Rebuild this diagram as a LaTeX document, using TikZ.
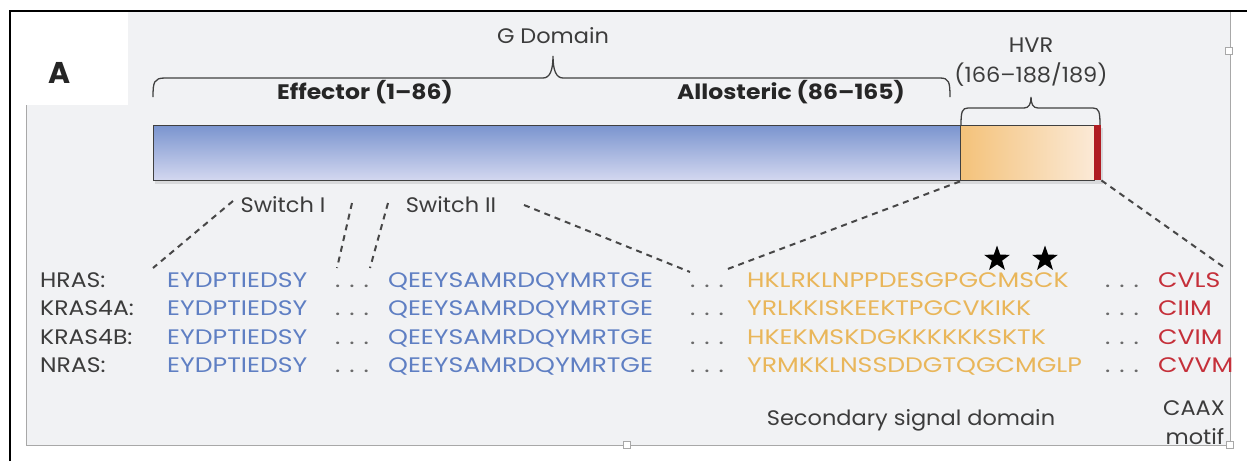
\documentclass[tikz,border=0pt]{standalone}
\usepackage{fontspec}
\setmainfont{Poppins}
\newfontfamily\upfont[FakeStretch=1.2]{Poppins}
\newfontfamily\midfont[FakeStretch=1.12]{Poppins}
\newfontfamily\lofont[FakeStretch=1.07]{Poppins}
\usetikzlibrary{shapes.geometric}
\definecolor{panel}{HTML}{F1F2F4}
\definecolor{pborder}{HTML}{A8A8A8}
\definecolor{txt}{HTML}{3C3C3C}
\definecolor{seqblue}{HTML}{5F7FC3}
\definecolor{seqorange}{HTML}{E9B65A}
\definecolor{seqred}{HTML}{C5303A}
\definecolor{dotc}{HTML}{6A6A6A}
\definecolor{barblueT}{HTML}{7B95CF}
\definecolor{barblueB}{HTML}{D4D8F0}
\definecolor{orangeL}{HTML}{F4C27A}
\definecolor{orangeR}{HTML}{FBEAD7}
\definecolor{caaxred}{HTML}{B01C22}
\definecolor{dashc}{HTML}{474747}
\tikzset{
  lbl/.style={font=\lofont\fontsize{21}{24}\selectfont, text=txt, inner sep=0pt},
  boldlbl/.style={font=\midfont\fontsize{21}{24}\selectfont\bfseries, text=black!85, inner sep=0pt},
  rowlbl/.style={font=\midfont\fontsize{21}{24}\selectfont, text=txt, inner sep=0pt, anchor=base west},
  seqb/.style={font=\upfont\fontsize{21}{24}\selectfont, text=seqblue, inner sep=0pt, anchor=base west},
  seqo/.style={font=\upfont\fontsize{21}{24}\selectfont, text=seqorange, inner sep=0pt, anchor=base west},
  seqr/.style={font=\upfont\fontsize{21}{24}\selectfont, text=seqred, inner sep=0pt, anchor=base west},
  dotsn/.style={font=\upfont\fontsize{21}{24}\selectfont, text=dotc, inner sep=0pt, anchor=base},
  dashline/.style={draw=dashc, line width=2pt, dash pattern=on 6pt off 5pt},
  bracket/.style={draw=black!75, line width=1.3pt},
  handle/.style={draw=pborder, fill=white, line width=0.8pt, minimum size=7pt, inner sep=0pt},
  starmark/.style={star, star points=5, star point ratio=2.5, fill=black, minimum size=27pt, inner sep=0pt}
}
\begin{document}
\begin{tikzpicture}[x=1pt,y=-1pt]
\useasboundingbox (0,0) rectangle (1247,461);
\fill[white] (0,0) rectangle (1247,461);
% panel
\fill[panel] (26,12) rectangle (1230,445);
\draw[pborder, line width=1pt] (26,12) -- (26,445) -- (1230,445) -- (1230,12);
\fill[white] (11,12) rectangle (128,105);
\draw[black, line width=2.2pt] (10,461) -- (10,11) -- (1247,11);
\node[handle] (h1) at (1229,51) {};
\node[handle] (h2) at (627,445) {};
\node[handle] (h3) at (1230,445) {};

% label A
\node[font=\fontsize{30}{32}\selectfont\bfseries, text=black!85, inner sep=0pt] (A) at (60,73) {A};

% G domain
\node[lbl] (gdom) at (553,36) {G Domain};
\draw[bracket] (153,97) .. controls (153,82) and (154,78) .. (165,78) -- (543,78)
  .. controls (550,78) and (553,70) .. (553,56)
  .. controls (553,70) and (556,78) .. (563,78) -- (940,78)
  .. controls (949,78) and (950,82) .. (950,97);
\node[boldlbl] (eff) at (365,92) {Effector (1–86)};
\node[boldlbl] (allo) at (791,92) {Allosteric (86–165)};

% HVR
\node[lbl] (hvr1) at (1031,45) {HVR};
\node[lbl] (hvr2) at (1031,75) {(166–188/189)};
\draw[bracket] (961,125) .. controls (961,112) and (962,108) .. (968,108) -- (1024,108)
  .. controls (1029,108) and (1031,104) .. (1031,97)
  .. controls (1031,104) and (1033,108) .. (1038,108) -- (1093,108)
  .. controls (1099,108) and (1100,112) .. (1100,125);

% bar
\fill[black, opacity=0.10] (155,128) rectangle (1103,184);
\node[rectangle, top color=barblueT, bottom color=barblueB, draw=black!75, line width=1.4pt,
  minimum width=807pt, minimum height=55pt, inner sep=0pt, anchor=north west] (gbar) at (153,125) {};
\node[rectangle, left color=orangeL, right color=orangeR, draw=black!75, line width=1.4pt,
  minimum width=134pt, minimum height=55pt, inner sep=0pt, anchor=north west] (hvr) at (960,125) {};
\node[rectangle, fill=caaxred, minimum width=7pt, minimum height=55pt, inner sep=0pt, anchor=north west] (red) at (1094,125) {};

% switch labels
\node[lbl] (sw1) at (283,205) {Switch I};
\node[lbl] (sw2) at (451,205) {Switch II};

% rows
\node[rowlbl] (r1) at (40,287) {HRAS:};
\node[rowlbl] (r2) at (40,315.5) {KRAS4A:};
\node[rowlbl] (r3) at (40,344) {KRAS4B:};
\node[rowlbl] (r4) at (40,372.5) {NRAS:};

\foreach \y/\n in {287/1,315.5/2,344/3,372.5/4}{
  \node[seqb] (a\n) at (167,\y) {EYDPTIEDSY};
  \node[dotsn] (d\n) at (352,\y) {. . .};
  \node[seqb] (b\n) at (388,\y) {QEEYSAMRDQYMRTGE};
  \node[dotsn] (e\n) at (707,\y) {. . .};
  \node[dotsn] (f\n) at (1122,\y) {. . .};
}
\node[seqo] (c1) at (747,287) {HKLRKLNPPDESGPGCMSCK};
\node[seqo] (c2) at (747,315.5) {YRLKKISKEEKTPGCVKIKK};
\node[seqo] (c3) at (747,344) {HKEKMSKDGKKKKKKSKTK};
\node[seqo] (c4) at (747,372.5) {YRMKKLNSSDDGTQGCMGLP};
\node[seqr] (m1) at (1158,287) {CVLS};
\node[seqr] (m2) at (1158,315.5) {CIIM};
\node[seqr] (m3) at (1158,344) {CVIM};
\node[seqr] (m4) at (1158,372.5) {CVVM};

% stars
\node[starmark] (st1) at (997,259) {};
\node[starmark] (st2) at (1045,259) {};

% bottom labels
\node[lbl] (ssd) at (911,420) {Secondary signal domain};
\node[lbl] (caax) at (1194,408) {CAAX};
\node[lbl] (motif) at (1195,437) {motif};

% dashed connectors
\coordinate (s1a) at (233,201);
\coordinate (s1b) at (153,268);
\coordinate (s2a) at (352,203);
\coordinate (s2b) at (337,268);
\coordinate (s3a) at (388,203);
\coordinate (s3b) at (370,268);
\coordinate (s4a) at (524,205);
\coordinate (s4b) at (690,272);
\coordinate (s5b) at (725,270);
\coordinate (s6b) at (1225,268);
\draw[dashline] (s1a) -- (s1b);
\draw[dashline] (s2a) -- (s2b);
\draw[dashline] (s3a) -- (s3b);
\draw[dashline] (s4a) -- (s4b);
\draw[dashline] (hvr.south west) -- (s5b);
\draw[dashline] (red.south east) -- (s6b);
\end{tikzpicture}
\end{document}
